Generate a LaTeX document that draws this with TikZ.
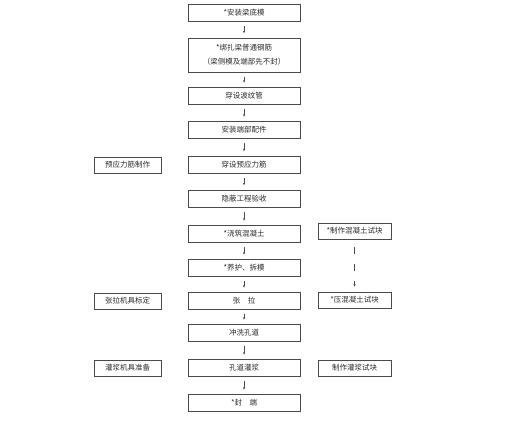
\documentclass[tikz,border=0pt]{standalone}
\usepackage{fontspec}
\setmainfont{Noto Sans CJK SC}
\usetikzlibrary{arrows.meta,positioning}
\definecolor{trait}{HTML}{4A4A4A}
\definecolor{texte}{HTML}{2A2A2A}

\begin{document}
\begin{tikzpicture}[x=1pt,y=-1pt,
  etape/.style={draw=trait,line width=0.6pt,minimum width=112pt,minimum height=17pt,inner sep=1pt,align=center,font=\fontsize{7.5}{14}\selectfont\color{texte}},
  annexe/.style={etape,minimum width=67pt,minimum height=16pt},
  essai/.style={etape,minimum width=73pt,minimum height=16pt},
  fleche/.style={trait,line width=0.5pt,-{Stealth[length=2.6pt,width=2.2pt]},shorten <=4.5pt,shorten >=4.5pt}]
  \useasboundingbox (0,0) rectangle (509,430);
  % colonne principale
  \foreach \y/\t/\h [count=\i] in {
      12.5/{*安装梁底模}/17,
      55/{*绑扎梁普通钢筋\\（梁侧模及端部先不封）}/34,
      96/{穿设波纹管}/17,
      130/{安装端部配件}/17,
      164.5/{穿设预应力筋}/17,
      198.5/{隐蔽工程验收}/17,
      234/{*浇筑混凝土}/17,
      268/{*养护、拆模}/17,
      301/{张\quad 拉}/17,
      333/{冲洗孔道}/17,
      368/{孔道灌浆}/17,
      403/{*封\quad 端}/17}{
    \node[etape,minimum height=\h pt] (m\i) at (244,\y) {\t};
  }
  \foreach \i [evaluate=\i as \j using int(\i+1)] in {1,...,11}
    \draw[fleche] (m\i) -- (m\j);
  % colonne de gauche
  \node[annexe] (g1) at (127.5,165) {预应力筋制作};
  \node[annexe] (g2) at (127.5,301) {张拉机具标定};
  \node[annexe] (g3) at (127.5,368) {灌浆机具准备};
  % colonne de droite
  \node[essai] (d1) at (354.5,231) {*制作混凝土试块};
  \node[essai] (d2) at (354.5,300) {*压混凝土试块};
  \node[essai] (d3) at (354.5,368) {制作灌浆试块};
  \draw[fleche,dash pattern=on 7pt off 10pt,shorten <=8pt,shorten >=5pt] (d1) -- (d2);
\end{tikzpicture}
\end{document}
